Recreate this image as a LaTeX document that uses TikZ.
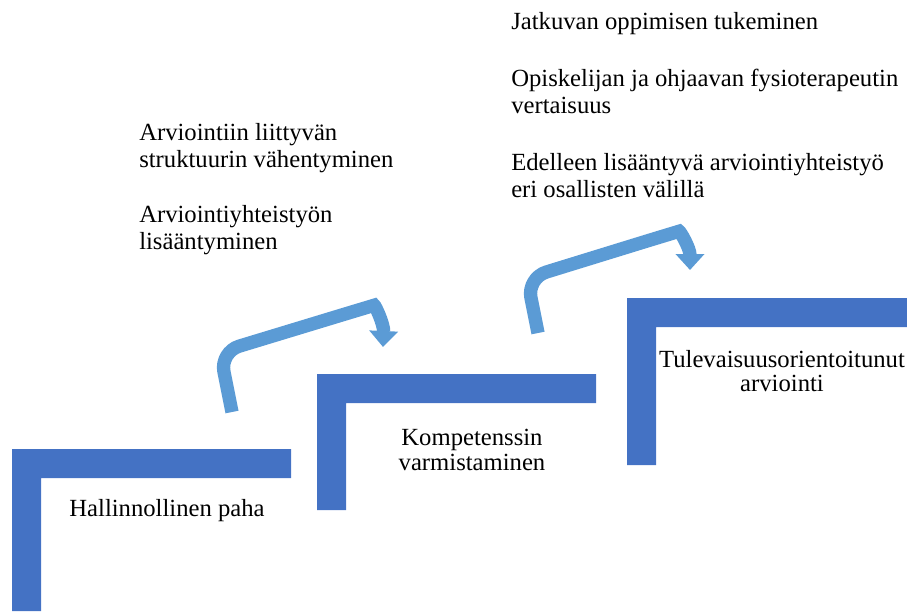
\documentclass[tikz,border=0pt]{standalone}
\usepackage{fontspec}
\setmainfont{Liberation Serif}
\usetikzlibrary{arrows.meta}
\definecolor{stepblue}{HTML}{4472C4}
\definecolor{flowblue}{HTML}{5B9BD5}

\begin{document}
\begin{tikzpicture}[x=0.75pt,y=-0.75pt,
  stepbar/.style={fill=stepblue, draw=none},
  flow/.style={draw=flowblue, line width=10pt, rounded corners=15pt, -{Triangle[width=21pt,length=12pt]}},
  note/.style={anchor=base west, align=left, inner sep=0pt, font=\fontsize{18.5}{20}\selectfont},
  steptext/.style={align=center, inner sep=0pt, font=\fontsize{18.5}{18.5}\selectfont}]
\useasboundingbox (0,0) rectangle (907,611);

% steps
\fill[stepbar] (12,449) -- (291,449) -- (291,478) -- (41,478) -- (41,611) -- (12,611) -- cycle;
\fill[stepbar] (317,374) -- (596,374) -- (596,403) -- (346,403) -- (346,510) -- (317,510) -- cycle;
\fill[stepbar] (627,298) -- (907,298) -- (907,327) -- (656,327) -- (656,465) -- (627,465) -- cycle;

\node[steptext, anchor=base] (hallinto) at (167,516) {Hallinnollinen paha};
\node[steptext] (kompetenssi) at (472,450) {Kompetenssin\\varmistaminen};
\node[steptext] (tulevaisuus) at (782,371) {Tulevaisuusorientoitunut\\arviointi};

% notes above the steps (base = last line)
\node[note] (struktuuri) at (139,167) {Arviointiin liittyvän\\struktuurin vähentyminen};
\node[note] (yhteistyo) at (139,249) {Arviointiyhteistyön\\lisääntyminen};

\node[note] (jatkuva) at (511,29) {Jatkuvan oppimisen tukeminen};
\node[note] (vertaisuus) at (511,113) {Opiskelijan ja ohjaavan fysioterapeutin\\vertaisuus};
\node[note] (osalliset) at (511,197) {Edelleen lisääntyvä arviointiyhteistyö\\eri osallisten välillä};

% arrows between the steps
\coordinate (f1s) at (232,412);
\coordinate (f1c) at (220,352);
\coordinate (f1t) at (355,311);
\coordinate (f1e) at (383,347);
\coordinate (f2s) at (538,333);
\coordinate (f2c) at (527,278);
\coordinate (f2t) at (660,237);
\coordinate (f2e) at (690,270);

\draw[flow] (f1s) -- (f1c) -- (f1t) .. controls (375,305) and (384,324) .. (f1e);
\draw[flow] (f2s) -- (f2c) -- (f2t) .. controls (680,231) and (690,248) .. (f2e);

\end{tikzpicture}
\end{document}
